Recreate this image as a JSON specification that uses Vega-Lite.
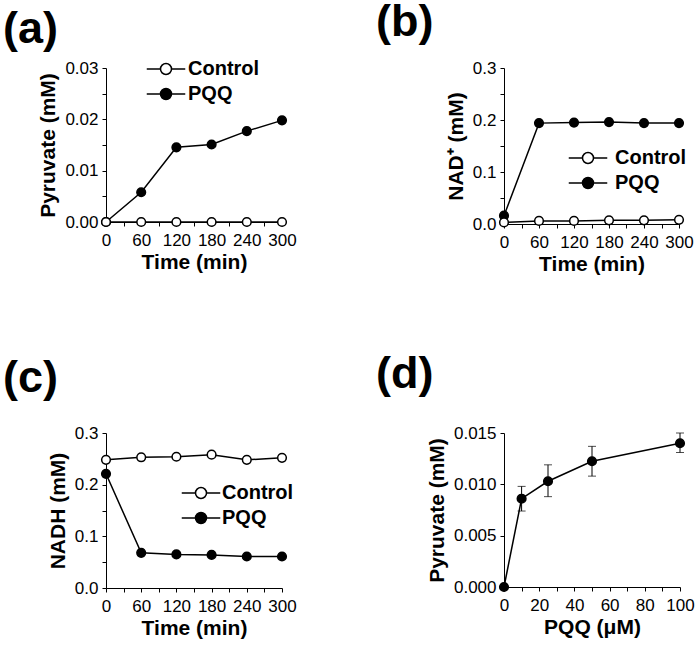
{
  "$schema": "https://vega.github.io/schema/vega-lite/v6.json",
  "padding": {"left": 3, "top": 0, "right": 5, "bottom": 5},
  "columns": 2,
  "spacing": {"row": 78, "column": 79},
  "resolve": {"scale": {"fill": "independent"}, "legend": {"fill": "independent"}},
  "config": {
    "font": "Liberation Sans",
    "view": {"stroke": null},
    "axis": {
      "domainColor": "black", "tickColor": "black", "labelColor": "black", "titleColor": "black",
      "labelFont": "Liberation Sans", "titleFont": "Liberation Sans",
      "labelFontSize": 17, "titleFontSize": 21, "titleFontWeight": "bold",
      "tickSize": 4, "grid": false, "domainWidth": 1, "tickWidth": 1,
      "labelOverlap": false, "labelFlush": false
    },
    "axisX": {"labelPadding": 6, "titlePadding": 3},
    "axisY": {"labelPadding": 4, "titlePadding": 6},
    "title": {"anchor": "start", "frame": "group", "fontSize": 45, "fontWeight": "bold", "baseline": "alphabetic", "color": "black", "font": "Liberation Sans"},
    "legend": {
      "title": null, "orient": "none", "padding": 0,
      "symbolType": "M-3.5,0L-1,0M1,0L3.5,0M-1,0A1,1,0,1,1,1,0A1,1,0,1,1,-1,0Z",
      "symbolSize": 121, "symbolStrokeColor": "black", "symbolStrokeWidth": 1.5,
      "labelFontSize": 20, "labelFontWeight": "bold", "labelColor": "black", "labelFont": "Liberation Sans",
      "labelOffset": 14, "rowPadding": 5
    }
  },
  "concat": [
    {
      "width": 176, "height": 154,
      "title": {"text": "(a)", "dx": -103, "offset": 7},
      "data": {"values": [
        {"time": 0, "value": 0, "series": "PQQ"},
        {"time": 60, "value": 0.0058, "series": "PQQ"},
        {"time": 120, "value": 0.01455, "series": "PQQ"},
        {"time": 180, "value": 0.0151, "series": "PQQ"},
        {"time": 240, "value": 0.0177, "series": "PQQ"},
        {"time": 300, "value": 0.0198, "series": "PQQ"},
        {"time": 0, "value": 0, "series": "Control"},
        {"time": 60, "value": 0, "series": "Control"},
        {"time": 120, "value": 0, "series": "Control"},
        {"time": 180, "value": 0, "series": "Control"},
        {"time": 240, "value": 0, "series": "Control"},
        {"time": 300, "value": 0, "series": "Control"}
      ]},
      "encoding": {
        "x": {"field": "time", "type": "quantitative", "scale": {"domain": [0, 300], "nice": false},
              "axis": {"title": "Time (min)", "values": [0,30,60,90,120,150,180,210,240,270,300], "labelExpr": "datum.value % 60 == 0 ? datum.label : ''"}},
        "y": {"field": "value", "type": "quantitative", "scale": {"domain": [0, 0.03], "nice": false},
              "axis": {"title": "Pyruvate (mM)", "values": [0,0.005,0.01,0.015,0.02,0.025,0.03], "format": ".2f", "labelExpr": "abs(datum.value*100 - round(datum.value*100)) < 0.000001 ? datum.label : ''"}}
      },
      "layer": [
        {"mark": {"type": "line", "color": "black", "strokeWidth": 1.5}, "encoding": {"detail": {"field": "series"}}},
        {"mark": {"type": "point", "shape": "circle", "filled": true, "size": 75, "stroke": "black", "strokeWidth": 1.5, "opacity": 1},
         "encoding": {"fill": {"field": "series", "type": "nominal", "scale": {"domain": ["Control", "PQQ"], "range": ["white", "black"]},
                               "legend": {"legendX": 50, "legendY": -9, "labelOffset": 12}}}}
      ]
    },
    {
      "width": 175, "height": 156,
      "title": {"text": "(b)", "dx": -128, "dy": -7, "offset": 7},
      "data": {"values": [
        {"time": 0, "value": 0.016, "series": "PQQ"},
        {"time": 60, "value": 0.194, "series": "PQQ"},
        {"time": 120, "value": 0.195, "series": "PQQ"},
        {"time": 180, "value": 0.196, "series": "PQQ"},
        {"time": 240, "value": 0.194, "series": "PQQ"},
        {"time": 300, "value": 0.194, "series": "PQQ"},
        {"time": 0, "value": 0.003, "series": "Control"},
        {"time": 60, "value": 0.006, "series": "Control"},
        {"time": 120, "value": 0.006, "series": "Control"},
        {"time": 180, "value": 0.007, "series": "Control"},
        {"time": 240, "value": 0.007, "series": "Control"},
        {"time": 300, "value": 0.008, "series": "Control"}
      ]},
      "encoding": {
        "x": {"field": "time", "type": "quantitative", "scale": {"domain": [0, 300], "nice": false},
              "axis": {"title": "Time (min)", "values": [0,30,60,90,120,150,180,210,240,270,300], "labelExpr": "datum.value % 60 == 0 ? datum.label : ''"}},
        "y": {"field": "value", "type": "quantitative", "scale": {"domain": [0, 0.3], "nice": false},
              "axis": {"title": "NAD⁺ (mM)", "values": [0,0.05,0.1,0.15,0.2,0.25,0.3], "format": ".1f", "labelExpr": "abs(datum.value*10 - round(datum.value*10)) < 0.000001 ? datum.label : ''"}}
      },
      "layer": [
        {"mark": {"type": "line", "color": "black", "strokeWidth": 1.5}, "encoding": {"detail": {"field": "series"}}},
        {"mark": {"type": "point", "shape": "circle", "filled": true, "size": 75, "stroke": "black", "strokeWidth": 1.5, "opacity": 1},
         "encoding": {"fill": {"field": "series", "type": "nominal", "scale": {"domain": ["Control", "PQQ"], "range": ["white", "black"]},
                               "legend": {"legendX": 74, "legendY": 80, "labelOffset": 17}}}}
      ]
    },
    {
      "width": 176, "height": 155,
      "title": {"text": "(c)", "dx": -103, "offset": 23},
      "data": {"values": [
        {"time": 0, "value": 0.221, "series": "PQQ"},
        {"time": 60, "value": 0.068, "series": "PQQ"},
        {"time": 120, "value": 0.065, "series": "PQQ"},
        {"time": 180, "value": 0.064, "series": "PQQ"},
        {"time": 240, "value": 0.061, "series": "PQQ"},
        {"time": 300, "value": 0.061, "series": "PQQ"},
        {"time": 0, "value": 0.248, "series": "Control"},
        {"time": 60, "value": 0.253, "series": "Control"},
        {"time": 120, "value": 0.254, "series": "Control"},
        {"time": 180, "value": 0.258, "series": "Control"},
        {"time": 240, "value": 0.248, "series": "Control"},
        {"time": 300, "value": 0.252, "series": "Control"}
      ]},
      "encoding": {
        "x": {"field": "time", "type": "quantitative", "scale": {"domain": [0, 300], "nice": false},
              "axis": {"title": "Time (min)", "values": [0,30,60,90,120,150,180,210,240,270,300], "labelExpr": "datum.value % 60 == 0 ? datum.label : ''"}},
        "y": {"field": "value", "type": "quantitative", "scale": {"domain": [0, 0.3], "nice": false},
              "axis": {"title": "NADH (mM)", "values": [0,0.05,0.1,0.15,0.2,0.25,0.3], "format": ".1f", "labelExpr": "abs(datum.value*10 - round(datum.value*10)) < 0.000001 ? datum.label : ''"}}
      },
      "layer": [
        {"mark": {"type": "line", "color": "black", "strokeWidth": 1.5}, "encoding": {"detail": {"field": "series"}}},
        {"mark": {"type": "point", "shape": "circle", "filled": true, "size": 75, "stroke": "black", "strokeWidth": 1.5, "opacity": 1},
         "encoding": {"fill": {"field": "series", "type": "nominal", "scale": {"domain": ["Control", "PQQ"], "range": ["white", "black"]},
                               "legend": {"legendX": 85, "legendY": 50, "labelOffset": 11}}}}
      ]
    },
    {
      "width": 176, "height": 154,
      "title": {"text": "(d)", "dx": -128, "offset": 27},
      "data": {"values": [
        {"pqq": 0, "value": 0, "lo": null, "hi": null},
        {"pqq": 10, "value": 0.0086, "lo": 0.0074, "hi": 0.0098},
        {"pqq": 25, "value": 0.0103, "lo": 0.0088, "hi": 0.0119},
        {"pqq": 50, "value": 0.01225, "lo": 0.0108, "hi": 0.0137},
        {"pqq": 100, "value": 0.0140, "lo": 0.0131, "hi": 0.0150}
      ]},
      "encoding": {
        "x": {"field": "pqq", "type": "quantitative", "scale": {"domain": [0, 100], "nice": false},
              "axis": {"title": "PQQ (μM)", "values": [0,10,20,30,40,50,60,70,80,90,100], "labelExpr": "datum.value % 20 == 0 ? datum.label : ''"}}
      },
      "layer": [
        {"mark": {"type": "errorbar", "color": "black", "ticks": {"size": 8}},
         "encoding": {"y": {"field": "lo", "type": "quantitative", "title": "Pyruvate (mM)"}, "y2": {"field": "hi"}}},
        {"mark": {"type": "line", "color": "black", "strokeWidth": 1.5},
         "encoding": {"y": {"field": "value", "type": "quantitative", "title": "Pyruvate (mM)"}}},
        {"mark": {"type": "point", "shape": "circle", "filled": true, "size": 75, "stroke": "black", "strokeWidth": 1.5, "fill": "black", "opacity": 1},
         "encoding": {"y": {"field": "value", "type": "quantitative", "title": "Pyruvate (mM)", "scale": {"domain": [0, 0.015], "nice": false},
              "axis": {"title": "Pyruvate (mM)", "values": [0,0.0025,0.005,0.0075,0.01,0.0125,0.015], "format": ".3f", "labelExpr": "abs(datum.value*200 - round(datum.value*200)) < 0.000001 ? datum.label : ''"}}}}
      ]
    }
  ]
}
